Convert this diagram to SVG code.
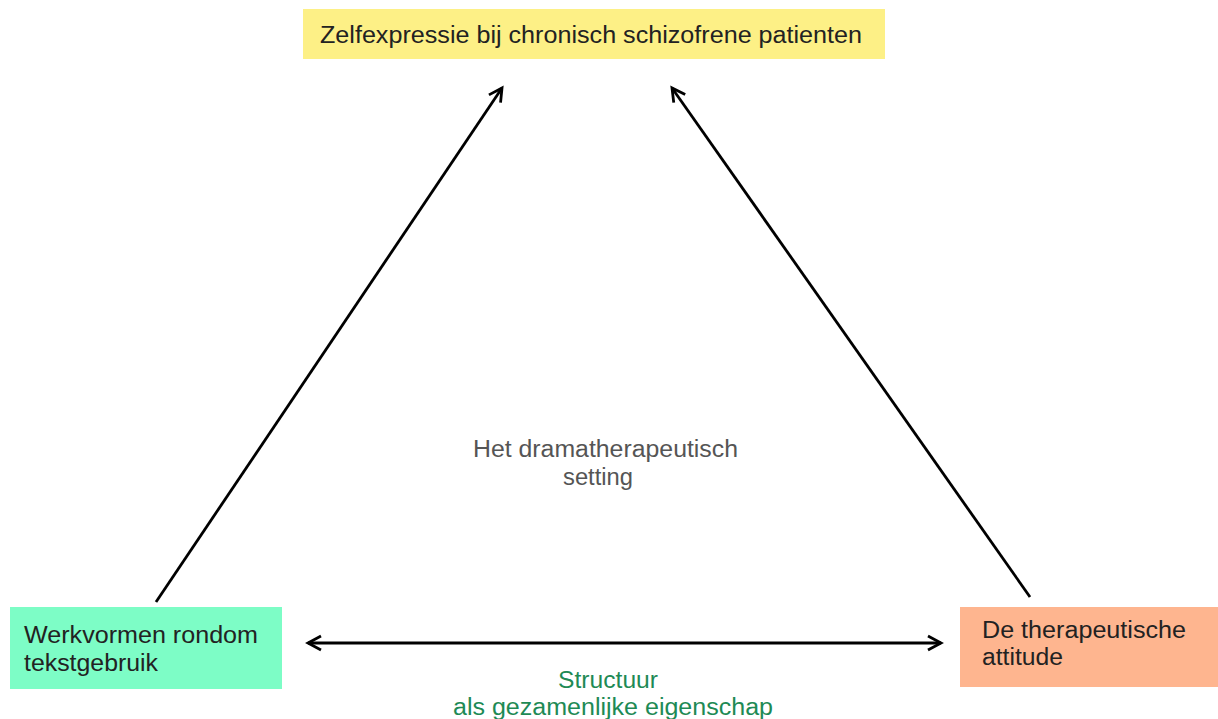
<svg xmlns="http://www.w3.org/2000/svg" width="1218" height="719" viewBox="0 0 1218 719">
<defs>
<style>
text{font-family:"Liberation Sans",Arial,sans-serif;font-size:23.5px}
.n{fill:#222}
.c{stroke:#000;stroke-width:2.8;fill:none}
</style>
<marker id="ah" viewBox="0 0 18 18" refX="15" refY="9" markerWidth="18" markerHeight="18" markerUnits="userSpaceOnUse" orient="auto-start-reverse">
<path d="M2,2 L15,9 L2,16" fill="none" stroke="#000" stroke-width="2.8"/>
</marker>
</defs>
<rect width="1218" height="719" fill="#fff"/>
<g id="connectors">
<line class="c" x1="156" y1="602" x2="502" y2="88" marker-end="url(#ah)"/>
<line class="c" x1="1030" y1="597" x2="672" y2="88" marker-end="url(#ah)"/>
<line class="c" x1="308" y1="643" x2="941" y2="643" marker-start="url(#ah)" marker-end="url(#ah)"/>
</g>
<g id="top">
<rect x="303" y="9" width="582" height="50" fill="#fdf086"/>
<text class="n" x="320" y="43" textLength="542" lengthAdjust="spacingAndGlyphs">Zelfexpressie bij chronisch schizofrene patienten</text>
</g>
<g id="left">
<rect x="10" y="607" width="272" height="82" fill="#7dfdc6"/>
<text class="n" x="24" y="643" textLength="234" lengthAdjust="spacingAndGlyphs">Werkvormen rondom</text>
<text class="n" x="24" y="671" textLength="134" lengthAdjust="spacingAndGlyphs">tekstgebruik</text>
</g>
<g id="right">
<rect x="960" y="607" width="258" height="80" fill="#feb58f"/>
<text class="n" x="982" y="638" textLength="204" lengthAdjust="spacingAndGlyphs">De therapeutische</text>
<text class="n" x="982" y="665" textLength="81" lengthAdjust="spacingAndGlyphs">attitude</text>
</g>
<g id="center">
<text x="473" y="457" fill="#555" textLength="265" lengthAdjust="spacingAndGlyphs">Het dramatherapeutisch</text>
<text x="563" y="485" fill="#555" textLength="70" lengthAdjust="spacingAndGlyphs">setting</text>
</g>
<g id="structure">
<text x="558" y="688" fill="#1e8a55" textLength="100" lengthAdjust="spacingAndGlyphs">Structuur</text>
<text x="453" y="715" fill="#1e8a55" textLength="320" lengthAdjust="spacingAndGlyphs">als gezamenlijke eigenschap</text>
</g>
</svg>
